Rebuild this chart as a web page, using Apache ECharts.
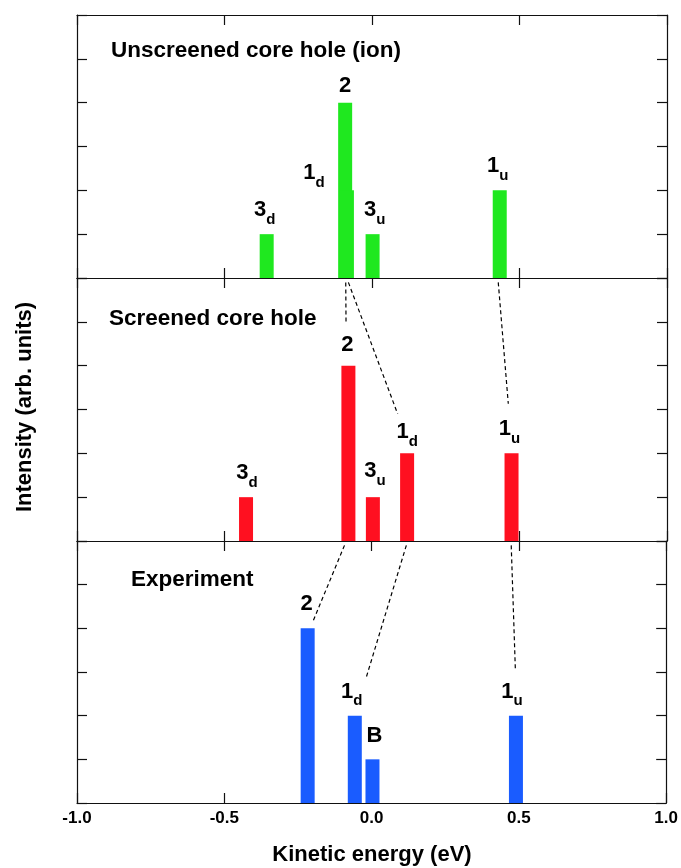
<!DOCTYPE html>
<html>
<head>
<meta charset="utf-8">
<script src="https://cdn.jsdelivr.net/npm/echarts@6/dist/echarts.min.js"></script>
<style>
html,body{margin:0;padding:0;background:#fff;}
#chart{width:681px;height:868px;}
</style>
</head>
<body>
<div id="chart"></div>
<script>
// ---- data ----
const xTickValues = [-1.0, -0.5, 0.0, 0.5, 1.0];
const panelTitles = ['Unscreened core hole (ion)', 'Screened core hole', 'Experiment'];

const ionPos = [-0.357, -0.091, -0.085, 0.002, 0.433];
const ionInt = [1, 4, 2, 1, 2];
const ionLab = ['3_d', '2', '1_d', '3_u', '1_u'];

const scrPos = [-0.427, -0.080, 0.003, 0.119, 0.473];
const scrInt = [1, 4, 1, 2, 2];
const scrLab = ['3_d', '2', '3_u', '1_d', '1_u'];

const expPos = [-0.217, -0.057, 0.003, 0.490];
const expInt = [4, 2, 1, 2];
const expLab = ['2', '1_d', 'B', '1_u'];

// dashed connectors (x, intensity) in the lower panel's coordinates
const linksScr = [
  [[-0.089, 5.9], [-0.088, 4.96]],
  [[-0.080, 5.9], [0.087, 2.90]],
  [[0.428, 5.9], [0.462, 3.13]]
];
const linksExp = [
  [[-0.092, 5.9], [-0.199, 4.16]],
  [[0.118, 5.9], [-0.018, 2.88]],
  [[0.474, 5.9], [0.488, 3.06]]
];

// ---- styling ----
const FONT = '"Liberation Sans", Arial, Helvetica, sans-serif';
const colors = ['#1fe81f', '#ff1020', '#1a5cff'];
const grids = [
  {left: 77, right: 14, top: 15, height: 263},
  {left: 77, right: 14, top: 278, height: 263},
  {left: 77, right: 14, top: 541, height: 262}
];
// per-label nudges [dx, dy] (styling only)
const nudges = [
  [[-2, 0], [0, 4], [-33, 7], [2, 0], [-2, 0]],
  [[1, 0], [-1, 0], [2, -2], [0, 3], [-2, 0]],
  [[-1, -3], [-3, 0], [2, -2], [-4, 0]]
];

const richStyles = {
  m: {fontSize: 22, fontWeight: 'bold', fontFamily: FONT, color: '#000', lineHeight: 24, verticalAlign: 'top'},
  s: {fontSize: 15, fontWeight: 'bold', fontFamily: FONT, color: '#000', lineHeight: 28, verticalAlign: 'bottom'}
};
function labelText(t) {
  const p = t.split('_');
  return p.length > 1 ? '{m|' + p[0] + '}{s|' + p[1] + '}' : '{m|' + p[0] + '}';
}

const axisLineStyle = {show: true, onZero: false, lineStyle: {color: '#111', width: 1.2}};
const tickStyle = {show: true, inside: true, length: 10, lineStyle: {color: '#111', width: 1.2}};

const xAxes = [], yAxes = [], series = [];
const panels = [
  {pos: ionPos, val: ionInt, lab: ionLab},
  {pos: scrPos, val: scrInt, lab: scrLab},
  {pos: expPos, val: expInt, lab: expLab}
];
panels.forEach((p, i) => {
  ['bottom', 'top'].forEach(position => {
    xAxes.push({
      gridIndex: i, type: 'value', position: position, min: -1, max: 1, interval: 0.5,
      axisLine: axisLineStyle, axisTick: tickStyle, splitLine: {show: false},
      axisLabel: (i === 2 && position === 'bottom') ? {
        show: true, margin: 7, fontSize: 17, fontWeight: 'bold', fontFamily: FONT, color: '#000',
        formatter: v => xTickValues.includes(v) ? v.toFixed(1) : ''
      } : {show: false}
    });
  });
  ['left', 'right'].forEach(position => {
    yAxes.push({
      gridIndex: i, type: 'value', position: position, min: 0, max: 6, interval: 1,
      axisLine: axisLineStyle, axisTick: tickStyle, splitLine: {show: false},
      axisLabel: {show: false}
    });
  });
  series.push({
    type: 'bar', xAxisIndex: i * 2, yAxisIndex: i * 2, barWidth: 14,
    itemStyle: {color: colors[i]},
    data: p.pos.map((x, k) => {
      const sub = p.lab[k].includes('_');
      return {
        value: [x, p.val[k]],
        label: {
          show: true, position: 'top', distance: sub ? 7 : 8,
          offset: nudges[i][k],
          formatter: labelText(p.lab[k]), rich: richStyles
        }
      };
    }),
    animation: false
  });
});
[[linksScr, 1], [linksExp, 2]].forEach(([links, g]) => {
  links.forEach(l => {
    series.push({
      type: 'line', xAxisIndex: g * 2, yAxisIndex: g * 2, data: l,
      symbol: 'none', silent: true, animation: false,
      lineStyle: {color: '#000', width: 1.2, type: [4, 3]}
    });
  });
});

const chart = echarts.init(document.getElementById('chart'), null, {renderer: 'canvas'});
chart.setOption({
  backgroundColor: '#fff',
  animation: false,
  grid: grids,
  xAxis: xAxes,
  yAxis: yAxes,
  series: series,
  graphic: [
    {type: 'text', x: 111, y: 51, style: {text: panelTitles[0], font: 'bold 22.5px ' + FONT, fill: '#000', textAlign: 'left', textVerticalAlign: 'middle'}},
    {type: 'text', x: 109, y: 319, style: {text: panelTitles[1], font: 'bold 22.5px ' + FONT, fill: '#000', textAlign: 'left', textVerticalAlign: 'middle'}},
    {type: 'text', x: 131, y: 580, style: {text: panelTitles[2], font: 'bold 22.5px ' + FONT, fill: '#000', textAlign: 'left', textVerticalAlign: 'middle'}},
    {type: 'text', x: 372, y: 855, style: {text: 'Kinetic energy (eV)', font: 'bold 22px ' + FONT, fill: '#000', textAlign: 'center', textVerticalAlign: 'middle'}},
    {type: 'text', x: 25, y: 407, rotation: Math.PI / 2, style: {text: 'Intensity (arb. units)', font: 'bold 22px ' + FONT, fill: '#000', textAlign: 'center', textVerticalAlign: 'middle'}}
  ]
});
</script>
</body>
</html>
